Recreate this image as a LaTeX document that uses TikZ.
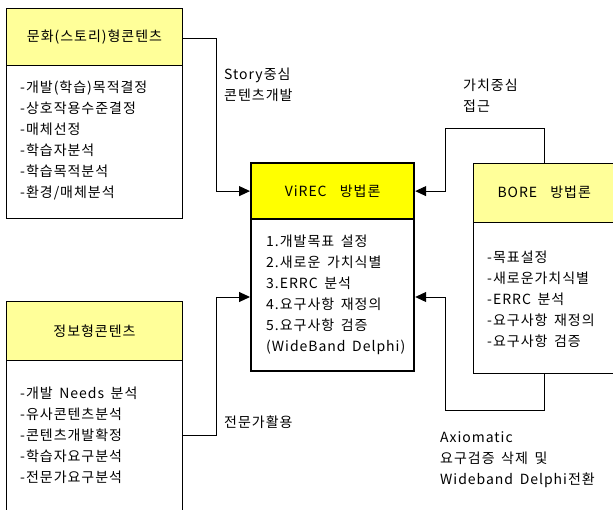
\documentclass[tikz,border=0pt]{standalone}
\usepackage{fontspec}
\setmainfont[LetterSpace=7,WordSpace=1.6]{Noto Sans CJK KR}
\usetikzlibrary{arrows.meta,positioning}
\definecolor{paleyel}{RGB}{255,255,153}
\definecolor{brightyel}{RGB}{255,255,0}
\tikzset{
  box/.style={draw=black, line width=1pt, anchor=north west, inner sep=0pt},
  hdr/.style={box, fill=paleyel},
  body/.style={box, fill=white},
  vbox/.style={draw=black, line width=2.2pt, anchor=north west, inner sep=0pt},
  lst/.style={anchor=north west, align=left, inner sep=0pt, font=\fontsize{14}{21}\selectfont},
  lbl/.style={anchor=north west, align=left, inner sep=0pt, font=\fontsize{14}{21}\selectfont},
  htxt/.style={font=\fontsize{14}{16}\selectfont},
  conn/.style={draw=black, line width=1pt},
  arr/.style={conn, -{Triangle[length=11pt,width=10pt]}}
}
\begin{document}
\begin{tikzpicture}[x=1pt,y=-1pt]
\useasboundingbox (0,0) rectangle (613,509);
\clip (0,0) rectangle (613,509);
\fill[white] (0,0) rectangle (613,509);

% top-left box
\node[hdr, minimum width=176pt, minimum height=57pt] (tlh) at (6,8) {};
\node[body, minimum width=176pt, minimum height=153pt] (tlb) at (6,65) {};
\node[htxt] (tlht) at (tlh.center) {문화(스토리)형콘텐츠};
\node[lst] (tll) at (20,81) {-개발(학습)목적결정\\-상호작용수준결정\\-매체선정\\-학습자분석\\-학습목적분석\\-환경/매체분석};

% bottom-left box
\node[hdr, minimum width=176pt, minimum height=59pt] (blh) at (6,301) {};
\node[body, minimum width=176pt, minimum height=160pt] (blb) at (6,360) {};
\node[htxt] (blht) at (blh.center) {정보형콘텐츠};
\node[lst] (bll) at (20,387) {-개발 Needs 분석\\-유사콘텐츠분석\\-콘텐츠개발확정\\-학습자요구분석\\-전문가요구분석};

% ViREC box
\node[vbox, fill=brightyel, minimum width=163pt, minimum height=56pt] (vh) at (250,162) {};
\node[vbox, fill=white, minimum width=163pt, minimum height=152pt] (vb) at (250,218) {};
\node[htxt] (vht) at (vh.center) {ViREC\ \ 방법론};
\node[lst] (vl) at (266,235) {1.개발목표 설정\\2.새로운 가치식별\\3.ERRC 분석\\4.요구사항 재정의\\5.요구사항 검증\\(WideBand Delphi)};

% BORE box
\node[hdr, minimum width=145pt, minimum height=59pt] (bh) at (473,163) {};
\node[body, minimum width=145pt, minimum height=151pt] (bb) at (473,222) {};
\node[htxt, anchor=west] (bht) at (494,192) {BORE\ \ 방법론};
\node[lst] (bl) at (487,251) {-목표설정\\-새로운가치식별\\-ERRC 분석\\-요구사항 재정의\\-요구사항 검증};

% connection points
\coordinate (blport) at (182,435);
\coordinate (vbin) at (vb.west |- 0,297);
\coordinate (vbinr) at (vb.east |- 0,297);
\coordinate (btop) at (544,163);
\coordinate (bbot) at (544,373);

% connectors
\draw[arr] (tlh.east |- 0,38) -- (216,38) |- (vh.west);
\draw[arr] (blport) -- (216,435) |- (vbin);
\draw[arr] (btop) -- (544,128) -- (445,128) |- (vh.east);
\draw[arr] (bbot) -- (544,410) -- (445,410) |- (vbinr);

% labels
\node[lbl] (l1) at (224,68) {Story중심\\콘텐츠개발};
\node[lbl] (l2) at (463,79) {가치중심\\접근};
\node[lbl] (l3) at (224,416) {전문가활용};
\node[lbl] (l4) at (440,431) {Axiomatic\\요구검증 삭제 및\\Wideband Delphi전환};
\end{tikzpicture}
\end{document}
